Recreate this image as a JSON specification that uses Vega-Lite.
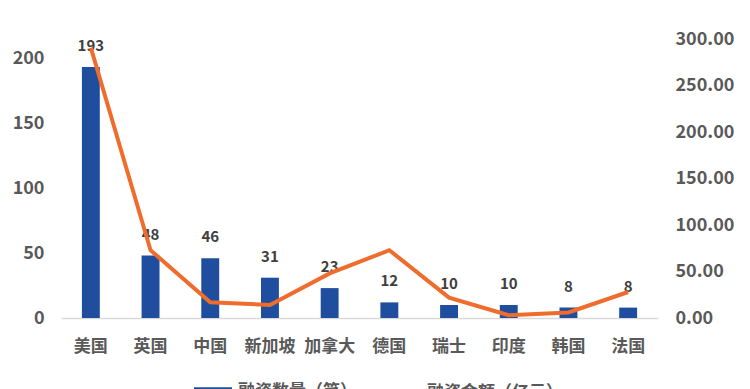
{
  "$schema": "https://vega.github.io/schema/vega-lite/v6.json",
  "width": 597,
  "height": 318,
  "autosize": {"type": "none"},
  "padding": {"left": 61, "top": 0, "right": 92, "bottom": 71},
  "background": "white",
  "config": {
    "view": {"stroke": null},
    "font": "Noto Sans CJK SC",
    "axis": {"grid": false, "ticks": false, "labelFont": "Noto Sans CJK SC", "labelFontWeight": "bold", "labelColor": "#595959", "titleFontWeight": "bold"},
    "legend": {"labelFont": "Noto Sans CJK SC", "labelFontWeight": "bold", "labelColor": "#595959", "labelFontSize": 17}
  },
  "data": {
    "values": [
      {"country": "美国", "count": 193, "amount": 291},
      {"country": "英国", "count": 48, "amount": 73},
      {"country": "中国", "count": 46, "amount": 17},
      {"country": "新加坡", "count": 31, "amount": 14},
      {"country": "加拿大", "count": 23, "amount": 48},
      {"country": "德国", "count": 12, "amount": 73},
      {"country": "瑞士", "count": 10, "amount": 22},
      {"country": "印度", "count": 10, "amount": 3},
      {"country": "韩国", "count": 8, "amount": 6},
      {"country": "法国", "count": 8, "amount": 28}
    ]
  },
  "encoding": {
    "x": {
      "field": "country", "type": "nominal", "sort": null, "title": null,
      "scale": {"paddingInner": 0.7, "paddingOuter": 0.35},
      "axis": {"labelAngle": 0, "labelFontSize": 17, "labelPadding": 20, "domainColor": "#d9d9d9", "domainWidth": 1.5}
    }
  },
  "layer": [
    {
      "layer": [
        {
          "mark": {"type": "bar"},
          "encoding": {
            "y": {"field": "count", "type": "quantitative", "title": null,
              "scale": {"domain": [0, 250], "nice": false, "range": [318, -7]},
              "axis": {"values": [0, 50, 100, 150, 200, 250], "domain": false, "labelFontSize": 18, "labelPadding": 17}},
            "fill": {"datum": "融资数量（笔）", "type": "nominal",
              "scale": {"range": ["#1f4e9e"]},
              "legend": {"title": null, "orient": "none", "legendX": 132, "legendY": 372,
                "symbolType": "M-1,-0.25H1V0.25H-1Z", "symbolSize": 1444, "symbolOpacity": 1, "labelOffset": 5}}
          }
        },
        {
          "mark": {"type": "text", "dy": -21, "baseline": "middle", "fontSize": 15, "fontWeight": "bold", "color": "#404040", "font": "Noto Sans CJK SC"},
          "encoding": {
            "y": {"field": "count", "type": "quantitative"},
            "text": {"field": "count", "type": "quantitative"}
          }
        }
      ]
    },
    {
      "mark": {"type": "line", "strokeWidth": 4, "strokeJoin": "miter"},
      "encoding": {
        "y": {"field": "amount", "type": "quantitative", "title": null,
          "scale": {"domain": [0, 350], "nice": false, "range": [318, -7]},
          "axis": {"orient": "right", "values": [0, 50, 100, 150, 200, 250, 300, 350], "format": ".2f", "domain": false, "labelFontSize": 18, "labelPadding": 17}},
        "stroke": {"datum": "融资金额（亿元）", "type": "nominal",
          "scale": {"range": ["#ef6c2c"]},
          "legend": {"title": null, "orient": "none", "legendX": 315, "legendY": 370,
            "symbolType": "stroke", "symbolSize": 1764, "symbolStrokeWidth": 4, "labelOffset": 5}}
      }
    }
  ],
  "resolve": {"scale": {"y": "independent", "fill": "independent", "stroke": "independent"}}
}
